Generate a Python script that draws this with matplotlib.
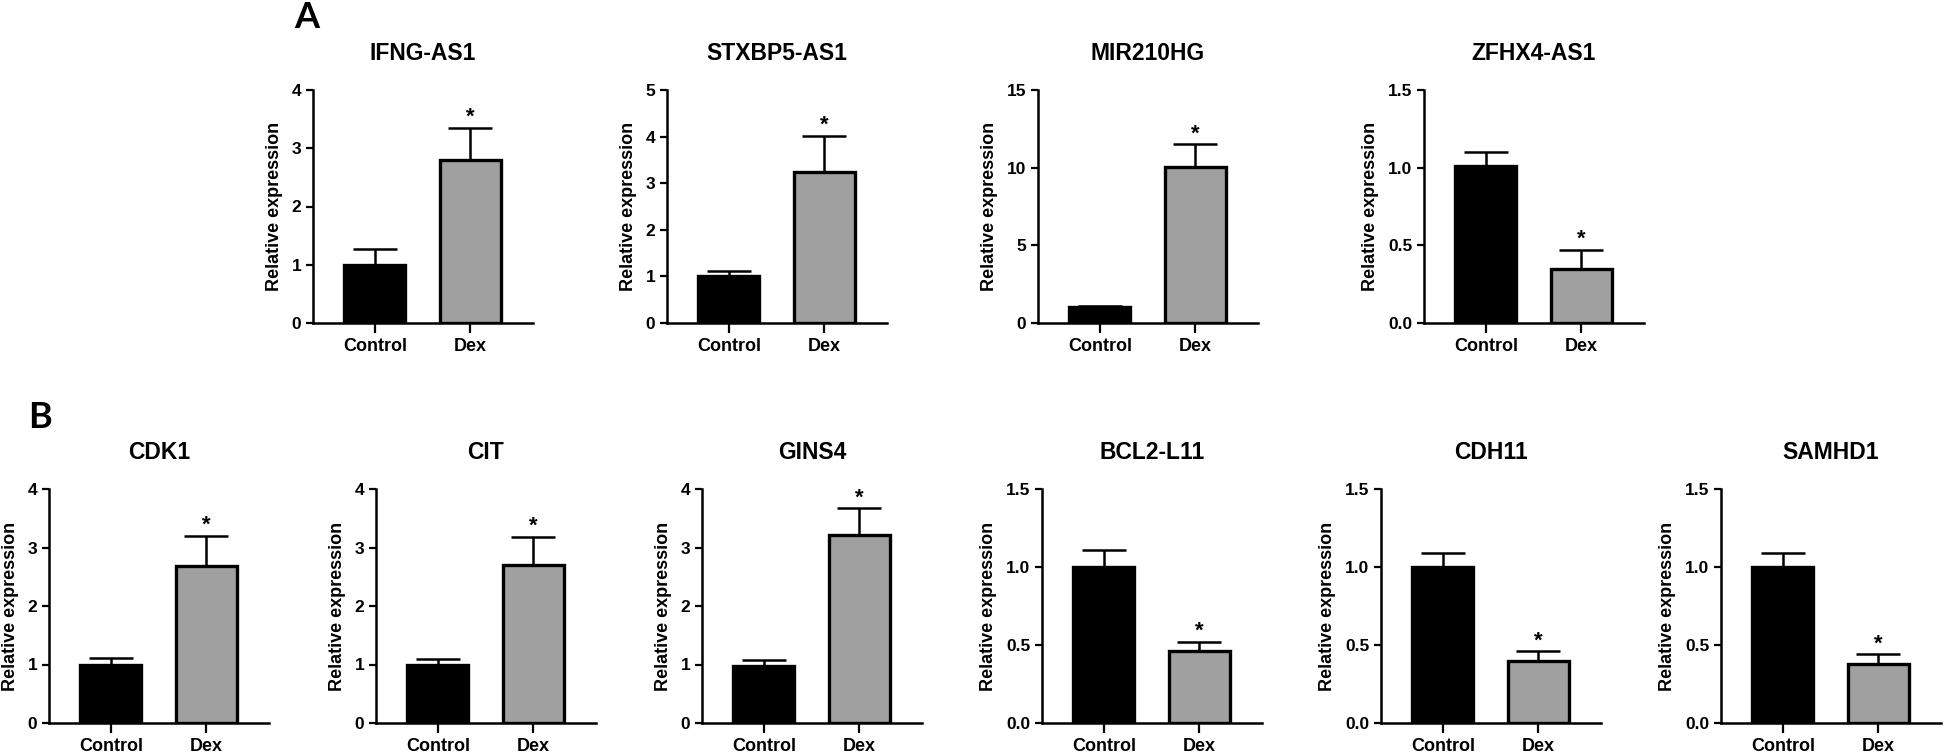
import matplotlib
matplotlib.use('Agg')
import matplotlib.pyplot as plt
from matplotlib.ticker import FormatStrFormatter

W, H = 1946, 755
DPI = 100

groups = ['Control', 'Dex']

genes_a = ['IFNG-AS1', 'STXBP5-AS1', 'MIR210HG', 'ZFHX4-AS1']
ctrl_a = [1.0, 1.0, 1.0, 1.01]
ctrl_err_a = [0.27, 0.11, 0.1, 0.09]
dex_a = [2.8, 3.25, 10.05, 0.35]
dex_err_a = [0.55, 0.77, 1.45, 0.12]
ymax_a = [4, 5, 15, 1.5]
ystep_a = [1, 1, 5, 0.5]

genes_b = ['CDK1', 'CIT', 'GINS4', 'BCL2-L11', 'CDH11', 'SAMHD1']
ctrl_b = [1.0, 1.0, 0.98, 1.0, 1.0, 1.0]
ctrl_err_b = [0.11, 0.1, 0.1, 0.11, 0.09, 0.09]
dex_b = [2.68, 2.7, 3.22, 0.46, 0.40, 0.38]
dex_err_b = [0.52, 0.48, 0.45, 0.06, 0.06, 0.06]
ymax_b = [4, 4, 4, 1.5, 1.5, 1.5]
ystep_b = [1, 1, 1, 0.5, 0.5, 0.5]

# layout in pixels
left_a = [313, 667, 1038, 1424]
left_b = [49, 376, 702, 1042, 1381, 1721]
AX_W = 220
row_a = (90, 323)
row_b = (489, 723)

FONT = 'Liberation Sans'
plt.rcParams['font.family'] = [FONT, 'DejaVu Sans']
plt.rcParams['font.weight'] = 'bold'

fig = plt.figure(figsize=(W / DPI, H / DPI), dpi=DPI)
GRAY = '#a0a0a0'


def panel(xpx, row, title, c, ce, d, de, ymax, ystep):
    top, bot = row
    ax = fig.add_axes([xpx / W, 1 - bot / H, AX_W / W, (bot - top) / H])
    x = [0, 1]
    ax.bar(x, [c, d], width=0.64, color=['black', GRAY], edgecolor='black',
           linewidth=2.4, zorder=3)
    ax.errorbar(x, [c, d], yerr=[[0, 0], [ce, de]], fmt='none', ecolor='black',
                elinewidth=1.8, capsize=15.5, capthick=1.8, zorder=2)
    ax.annotate('*', xy=(1, d + de), xytext=(0, 0), textcoords='offset points',
                ha='center', va='bottom', fontsize=16, fontweight='bold')
    ax.set_xlim(-0.65, 1.66)
    ax.set_ylim(0, ymax)
    n = int(round(ymax / ystep))
    ticks = [i * ystep for i in range(n + 1)]
    ax.set_yticks(ticks)
    if ystep < 1:
        ax.yaxis.set_major_formatter(FormatStrFormatter('%.1f'))
    else:
        ax.yaxis.set_major_formatter(FormatStrFormatter('%d'))
    ax.set_xticks(x)
    ax.set_xticklabels(groups)
    for s in ['top', 'right']:
        ax.spines[s].set_visible(False)
    for s in ['left', 'bottom']:
        ax.spines[s].set_linewidth(1.8)
    ax.tick_params(axis='y', length=5, width=1.6, labelsize=12.5, pad=3.5)
    ax.tick_params(axis='x', length=7.5, width=1.6, labelsize=13, pad=3.5)
    for lab in ax.get_xticklabels() + ax.get_yticklabels():
        lab.set_fontweight('bold')
    ax.set_ylabel('Relative expression', fontsize=13, fontweight='bold', labelpad=6)
    ax.text(0.5, 1 + 30 / (bot - top), title, transform=ax.transAxes,
            ha='center', va='baseline', fontsize=16.5, fontweight='bold')
    return ax


for i, g in enumerate(genes_a):
    panel(left_a[i], row_a, g, ctrl_a[i], ctrl_err_a[i], dex_a[i], dex_err_a[i],
          ymax_a[i], ystep_a[i])
for i, g in enumerate(genes_b):
    panel(left_b[i], row_b, g, ctrl_b[i], ctrl_err_b[i], dex_b[i], dex_err_b[i],
          ymax_b[i], ystep_b[i])

fig.text(307 / W, 1 - 17 / H, 'A', ha='center', va='center', fontsize=26,
         fontweight='bold', family=['Lato', 'DejaVu Sans'])
fig.text(40 / W, 1 - 417 / H, 'B', ha='center', va='center', fontsize=26,
         fontweight='bold', family=['Lato', 'DejaVu Sans'])

fig.savefig('out.png', dpi=DPI, facecolor='white')
